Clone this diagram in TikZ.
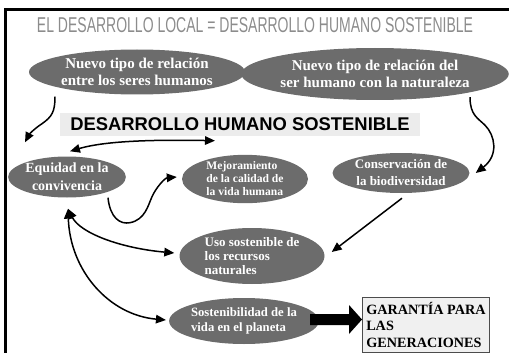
\documentclass[tikz,border=0pt]{standalone}
\usepackage{fontspec}
\setmainfont{Liberation Serif}
\setsansfont{Liberation Sans}
\usepackage{graphicx}
\usetikzlibrary{shapes.geometric,arrows.meta,calc}
\definecolor{ellgray}{RGB}{108,108,108}
\definecolor{boxgray}{RGB}{236,236,236}
\definecolor{garfill}{RGB}{240,240,240}
\tikzset{
  ell/.style={ellipse, fill=ellgray, text=white, inner sep=0pt, font=\bfseries},
  con/.style={line width=1.5pt, -{Triangle[length=10pt,width=8.5pt]}},
  dcon/.style={line width=1.5pt, {Triangle[length=10pt,width=8.5pt]}-{Triangle[length=10pt,width=8.5pt]}},
}
\newcommand{\fs}[2]{\fontsize{#1}{#2}\selectfont}
\begin{document}
\begin{tikzpicture}[x=1pt,y=-1pt]
\useasboundingbox (0,0) rectangle (509,353);
% frame
\draw[line width=3.5pt] (5.5,353) -- (5.5,9.5) -- (509,9.5);
% title
\node[anchor=base, inner sep=0pt, text=black!45] (title) at (255,33)
  {\resizebox{436pt}{15pt}{\sffamily EL DESARROLLO LOCAL = DESARROLLO HUMANO SOSTENIBLE}};
% ellipses
\node[ell, minimum width=216pt, minimum height=45pt, align=center, font=\bfseries\fs{15}{17}] (e1) at (137,72)
  {Nuevo tipo de relación\\entre los seres humanos};
\node[ell, minimum width=250pt, minimum height=52pt, align=center, font=\bfseries\fs{15}{17}] (e2) at (375,74)
  {Nuevo tipo de relación del\\ser humano con la naturaleza};
\node[fill=boxgray, minimum width=360pt, minimum height=23pt, inner sep=0pt, font=\sffamily\bfseries\fs{18.4}{20}] (dhs) at (240,124)
  {DESARROLLO HUMANO SOSTENIBLE};
\node[ell, minimum width=113pt, minimum height=41pt, align=center, font=\bfseries\fs{14}{18}] (eq) at (67,177)
  {Equidad en la\\convivencia};
\node[ell, minimum width=126pt, minimum height=48pt, align=left, font=\bfseries\fs{11.6}{13}] (mej) at (245,179)
  {Mejoramiento\\de la calidad de\\la vida humana};
\node[ell, minimum width=137pt, minimum height=40pt, align=center, font=\bfseries\fs{13}{17}] (cons) at (401,173)
  {Conservación de\\la biodiversidad};
\node[ell, minimum width=145pt, minimum height=56pt, align=left, font=\bfseries\fs{13}{14}] (uso) at (252,256)
  {Uso sostenible de\\los recursos\\naturales};
\node[ell, minimum width=148pt, minimum height=46pt, align=left, font=\bfseries\fs{12.7}{15}] (sost) at (244,321)
  {Sostenibilidad de la\\vida en el planeta};
\node[draw=black!70, line width=0.8pt, fill=garfill, anchor=north west, minimum width=127pt, minimum height=55pt,
      inner xsep=3pt, inner ysep=2pt, align=left, font=\bfseries\fs{14.2}{16.5}] (gar) at (362,297)
  {GARANTÍA PARA\\LAS\\GENERACIONES};
% connectors
\draw[con] ($(e1.south)+(-82,2)$) .. controls ($(e1.south)+(-82,17)$) and ($(e1.south)+(-85,22)$) .. ($(e1.south)+(-95,29)$)
   .. controls ($(e1.south)+(-104,35)$) and ($(e1.south)+(-108,40)$) .. ($(eq.north)+(-42,-14)$);
\draw[dcon] ($(eq.north)+(3,-5)$) .. controls ($(eq.north)+(40,-16)$) and ($(dhs.south)+(-80,4)$) .. ($(dhs.south)+(-25,5)$);
\draw[con] ($(eq.south)+(41,0)$) .. controls ($(eq.south)+(43,20)$) and ($(eq.south)+(53,27)$) .. ($(eq.south)+(63,25)$)
   .. controls ($(eq.south)+(78,22)$) and ($(eq.south)+(81,8)$) .. ($(eq.south)+(85,-1)$)
   .. controls ($(eq.south)+(89,-10)$) and ($(mej.west)+(-17,-1)$) .. ($(mej.west)+(-5,-2)$);
\draw[con] ($(e2.south)+(95,-3)$) .. controls ($(e2.south)+(95,15)$) and ($(e2.south)+(103,18)$) .. ($(e2.south)+(110,25)$)
   .. controls ($(e2.south)+(120,35)$) and ($(e2.south)+(124,55)$) .. ($(cons.east)+(6,0)$);
\draw[con] ($(cons.south)+(1,5)$) -- ($(uso.east)+(7,-4)$);
\draw[dcon] ($(eq.south)+(1,11)$) .. controls ($(eq.south)+(13,35)$) and ($(uso.west)+(-60,-8)$) .. ($(uso.west)+(-5,-3)$);
\draw[dcon] ($(eq.south)+(1,11)$) .. controls ($(eq.south)+(3,73)$) and ($(sost.west)+(-60,-6)$) .. ($(sost.west)+(-3,-1)$);
% block arrow
\fill (310,314) -- (349,314) -- (349,305) -- (gar.west |- 0,319.5) -- (349,334) -- (349,325) -- (310,325) -- cycle;
\end{tikzpicture}
\end{document}
